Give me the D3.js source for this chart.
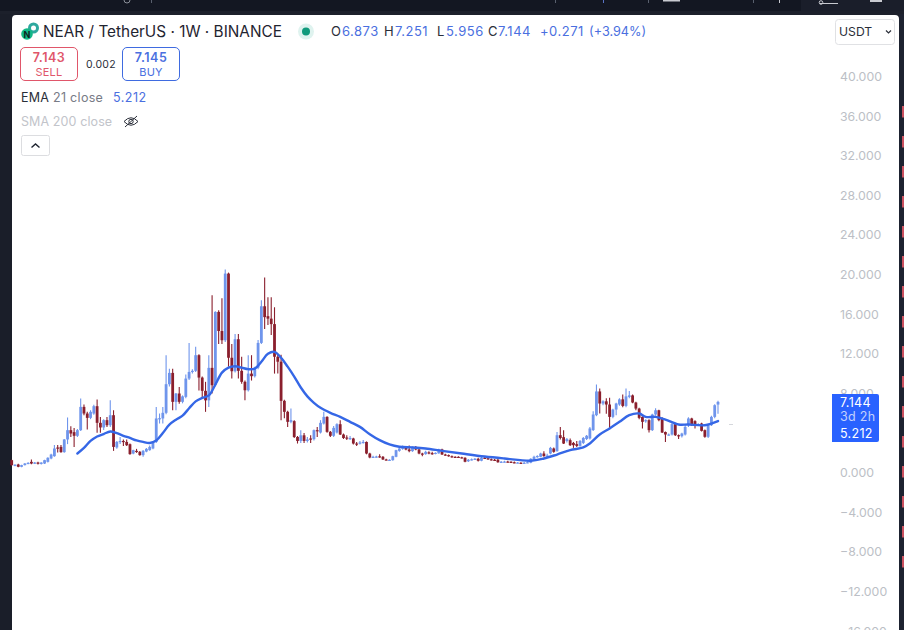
<!DOCTYPE html>
<html><head><meta charset="utf-8">
<script src="https://cdn.jsdelivr.net/npm/d3@7/dist/d3.min.js"></script>
<style>html,body{margin:0;padding:0;background:#131722;overflow:hidden}svg{display:block}text{font-family:Inter,"Noto Sans",sans-serif}</style>
</head><body><div id="c"></div>
<script>
const opens=[1.26,.70,.82,.59,.76,.92,1.09,.92,1.02,.88,
.92,1.09,1.43,1.66,2.54,2.60,2.07,3.35,4.29,4.09,
3.72,4.29,6.64,5.97,5.53,5.97,6.71,5.03,4.56,5.30,
4.79,5.80,2.54,3.10,3.20,3.10,2.87,1.93,2.20,2.10,
1.77,2.13,2.27,2.44,3.10,5.40,5.47,6.04,8.93,10.07,
7.15,7.99,7.15,7.65,9.50,10.17,10.28,11.86,9.60,8.26,
7.30,10.58,8.83,16.23,14.30,13.37,20.10,11.60,10.24,13.47,
10.28,9.17,8.32,10.00,9.74,10.60,13.10,16.80,15.80,15.55,
15.00,11.70,11.20,7.25,6.14,5.13,5.20,3.60,3.20,3.77,
3.20,3.45,3.38,4.29,4.05,4.96,5.63,4.12,3.72,4.05,
4.89,3.85,3.55,3.45,3.45,2.94,2.94,3.04,3.10,1.93,
1.53,1.58,1.65,1.60,1.33,1.30,1.26,1.60,2.20,2.40,
2.54,2.34,2.17,2.60,2.34,1.93,1.87,2.05,1.97,1.93,
1.95,2.34,1.83,1.77,1.66,1.60,1.60,1.55,1.50,1.15,
1.30,1.35,1.40,1.20,1.50,1.45,1.35,1.30,1.30,1.05,
1.10,1.12,1.10,1.05,1.00,1.00,.98,1.00,1.00,1.30,
1.60,1.60,1.93,1.67,1.93,2.44,2.17,3.78,3.58,3.20,
3.28,3.00,2.88,2.70,3.00,3.40,3.45,4.30,5.80,8.20,
6.98,7.20,6.88,5.63,6.37,6.88,7.40,6.74,7.65,7.80,
7.08,6.47,5.63,5.20,5.30,4.29,5.87,6.30,5.50,4.10,
3.85,3.85,4.90,3.78,3.68,3.85,4.80,5.47,5.20,4.85,
4.96,4.29,3.62,4.79,5.63,6.873];
const highs=[1.30,.85,.90,.80,.98,1.05,1.33,1.08,1.10,1.06,
1.30,1.55,1.90,2.78,2.78,2.78,3.40,5.57,4.69,4.50,
4.40,7.48,6.88,6.14,6.30,6.85,7.38,5.63,5.40,5.63,
7.31,6.30,3.20,3.60,3.35,3.35,2.95,2.32,2.40,2.18,
2.28,2.50,2.75,3.20,6.64,5.97,6.64,11.86,10.50,10.50,
8.05,8.66,7.80,9.90,13.10,10.45,12.70,11.95,9.70,9.17,
11.86,17.90,16.30,16.40,17.60,20.50,20.20,13.00,14.00,14.00,
11.70,9.30,11.86,11.86,10.70,13.40,17.40,19.70,17.70,17.70,
16.70,11.90,11.90,7.35,6.25,6.47,5.30,3.70,4.29,4.00,
3.60,3.77,4.35,4.62,5.30,6.14,5.70,4.20,4.70,5.00,
5.30,3.95,3.77,3.70,3.52,3.10,3.20,3.30,3.15,2.00,
1.70,1.70,1.85,1.68,1.40,1.35,1.70,2.32,2.50,2.75,
2.70,2.75,2.65,2.70,2.40,2.00,2.20,2.15,2.10,2.05,
2.40,2.40,1.90,1.82,1.72,1.66,1.65,1.60,1.55,1.38,
1.42,1.48,1.50,1.58,1.58,1.52,1.42,1.38,1.38,1.18,
1.20,1.20,1.15,1.12,1.08,1.06,1.08,1.15,1.45,1.70,
1.75,2.00,2.17,1.90,2.60,2.55,4.10,4.62,4.29,3.50,
3.45,3.10,3.20,3.30,3.60,3.80,4.60,6.20,8.90,8.50,
7.30,7.50,7.55,6.45,7.05,7.50,7.90,8.50,8.25,7.90,
7.15,6.55,5.70,5.40,5.40,5.95,6.50,6.35,5.60,4.15,
3.95,5.05,5.00,3.85,4.02,4.80,5.60,5.55,5.30,5.00,
5.05,4.35,4.90,5.75,6.90,7.251];
const lows=[.70,.65,.55,.55,.72,.85,.85,.88,.82,.82,
.88,1.02,1.35,1.60,2.03,2.00,2.00,2.88,3.60,2.60,
3.60,4.20,5.80,4.36,5.40,5.85,4.02,4.02,4.30,4.60,
4.60,2.20,2.40,2.90,2.68,2.70,1.80,1.85,2.00,1.70,
1.60,2.05,2.20,2.35,3.00,4.96,4.96,5.90,8.70,6.30,
6.30,6.95,7.00,7.50,9.35,10.00,10.15,8.30,7.50,6.14,
6.64,8.00,8.70,13.00,13.00,13.20,10.70,9.50,10.10,9.50,
8.98,7.30,8.20,9.30,9.60,10.45,13.00,14.50,14.90,13.90,
10.00,10.00,5.30,5.50,4.60,5.00,3.50,2.94,3.00,3.00,
3.05,3.00,3.25,3.60,3.95,4.85,4.02,3.60,3.60,3.95,
3.80,3.40,3.30,3.30,2.85,2.70,2.85,2.95,1.85,1.45,
1.48,1.50,1.50,1.28,1.25,1.24,1.20,1.55,2.10,2.30,
2.25,2.05,2.10,2.25,1.85,1.65,1.80,1.85,1.80,1.85,
1.90,1.78,1.70,1.60,1.50,1.52,1.48,1.42,1.05,1.08,
1.22,1.28,1.12,1.15,1.38,1.30,1.22,1.22,1.00,.98,
1.02,1.02,.98,.95,.94,.92,.92,.95,.95,1.22,
1.50,1.55,1.60,1.60,1.85,2.00,2.10,3.35,2.88,3.05,
2.70,2.50,2.60,2.62,2.90,3.30,3.35,4.20,5.70,5.97,
6.80,5.95,4.39,5.50,5.80,6.75,6.60,6.60,7.50,7.00,
6.30,5.40,4.46,5.05,4.05,4.20,5.75,5.20,4.00,3.10,
3.75,3.75,3.70,3.40,3.55,3.75,4.62,4.70,4.46,4.75,
4.15,3.52,3.50,4.70,5.50,5.956];
const closes=[.76,.80,.59,.76,.92,.99,.92,1.02,.92,1.02,
1.26,1.50,1.83,2.44,2.50,2.07,3.35,4.29,3.95,3.72,
4.29,6.64,5.97,5.53,6.14,6.71,5.03,4.56,5.30,4.79,
5.80,2.60,3.10,3.20,3.17,2.77,1.87,2.27,2.10,1.77,
2.20,2.40,2.60,3.10,5.47,5.50,6.04,8.93,10.07,7.15,
7.99,7.15,7.70,9.50,10.17,10.28,11.86,9.60,8.26,7.30,
10.58,8.83,16.23,14.30,13.37,20.10,11.60,10.24,13.47,10.28,
9.17,8.32,10.00,9.74,10.60,13.10,16.80,15.70,15.55,15.00,
11.70,11.20,7.25,6.14,5.13,5.30,3.60,3.20,3.77,3.20,
3.35,3.40,4.29,4.18,5.03,5.63,4.12,3.72,4.52,4.89,
3.85,3.50,3.45,3.50,2.94,2.90,3.04,3.10,1.93,1.53,
1.60,1.63,1.60,1.33,1.30,1.30,1.66,2.27,2.44,2.60,
2.34,2.17,2.60,2.34,1.93,1.87,2.10,1.97,1.93,2.00,
2.34,1.83,1.77,1.66,1.60,1.58,1.55,1.50,1.10,1.30,
1.35,1.40,1.20,1.50,1.45,1.35,1.30,1.28,1.05,1.10,
1.12,1.10,1.05,1.00,1.02,.98,1.00,1.05,1.40,1.60,
1.68,1.93,1.67,1.72,2.50,2.10,3.78,3.50,2.94,3.38,
2.77,2.77,2.70,3.20,3.50,3.72,4.46,5.87,8.20,6.98,
7.20,6.88,5.63,6.37,6.98,7.40,6.74,7.70,7.80,7.08,
6.47,5.53,5.13,5.30,4.29,5.87,6.30,5.30,4.05,3.85,
3.85,4.90,3.78,3.68,3.95,4.62,5.47,4.80,4.80,4.90,
4.22,3.62,4.79,5.63,6.81,7.144];
const emaIndex=[20,22,24,26,28,30,32,34,36,38,40,42,44,46,48,50,52,54,56,58,60,62,64,66,68,70,72,74,76,78,80,82,84,86,88,90,92,94,97,100,103,106,109,112,115,118,122,126,131,137,144,150,158,162,166,170,174,176,179,182,185,188,191,193,196,199,203,206,211,215];
const emaValues=[1.93,2.5,3.2,3.65,3.9,4.15,3.98,3.72,3.5,3.25,3.1,3.0,3.25,4.0,4.85,5.35,5.75,6.5,7.2,7.55,7.8,8.9,10.1,10.6,10.75,10.6,10.45,10.5,11.2,12.0,12.2,11.6,10.7,9.7,8.6,7.7,7.05,6.55,6.04,5.63,5.13,4.62,3.88,3.28,2.85,2.62,2.55,2.44,2.2,1.93,1.63,1.43,1.2,1.43,1.83,2.27,2.55,2.95,3.85,4.46,5.13,5.8,5.97,5.63,5.63,5.36,4.86,4.86,4.79,5.212];
const priceTicks=[40,36,32,28,24,20,16,12,8,0,-4,-8,-12,-16];

const W=904,H=630;
const svg=d3.select('#c').append('svg').attr('width',W).attr('height',H).style('background','#131722');
// chrome
svg.append('rect').attr('x',801).attr('y',0).attr('width',103).attr('height',11).attr('fill','#1a1e2a');
svg.append('rect').attr('x',0).attr('y',11).attr('width',W).attr('height',5).attr('fill','#1c202b');
svg.append('rect').attr('x',0).attr('y',14).attr('width',12).attr('height',H).attr('fill','#1a1e29');
svg.append('rect').attr('x',899).attr('y',14).attr('width',5).attr('height',H).attr('fill','#1d2230');
svg.append('rect').attr('x',12).attr('y',15).attr('width',887).attr('height',H).attr('rx',4).attr('fill','#ffffff');
d3.range(106,570,30).forEach(yy=>svg.append('rect').attr('x',902).attr('y',yy).attr('width',2).attr('height',11.5).attr('fill','#c9505f'));
[[151,'#59606e'],[555,'#59606e'],[603,'#5a74c8'],[648,'#59606e'],[753,'#59606e'],[779,'#c8cad0']].forEach(d=>svg.append('rect').attr('x',d[0]).attr('y',0).attr('width',1).attr('height',3).attr('fill',d[1]));
svg.append('rect').attr('x',663).attr('y',0).attr('width',17).attr('height',1.5).attr('fill','#c8cad0');
svg.append('path').attr('d','M820 3.5H838').attr('stroke','#c8cad0').attr('fill','none');
svg.append('circle').attr('cx',821).attr('cy',2.5).attr('r',1.8).attr('fill','none').attr('stroke','#c8cad0');
svg.append('rect').attr('x',870).attr('y',0).attr('width',12).attr('height',2).attr('fill','#c8cad0');
svg.append('circle').attr('cx',127).attr('cy',0).attr('r',3).attr('fill','none').attr('stroke','#8b8f99');

const x=d3.scaleLinear().domain([0,215]).range([11.7,718]);
const y=d3.scaleLinear().domain([40,-16]).range([76.5,631.1]);
const BLUE='#6f95ec',RED='#8a1f2d';
const idx=d3.range(closes.length);
const up=i=>closes[i]>=opens[i];
const g=svg.append('g');
g.selectAll('line.w').data(idx).join('line').attr('class','w')
 .attr('x1',i=>x(i)).attr('x2',i=>x(i)).attr('y1',i=>y(highs[i])).attr('y2',i=>y(lows[i]))
 .attr('stroke',i=>up(i)?BLUE:RED).attr('stroke-width',1.1);
g.selectAll('rect.b').data(idx).join('rect').attr('class','b')
 .attr('x',i=>x(i)-1.4).attr('width',2.8)
 .attr('y',i=>y(Math.max(opens[i],closes[i])))
 .attr('height',i=>Math.max(1.2,Math.abs(y(opens[i])-y(closes[i]))))
 .attr('fill',i=>up(i)?BLUE:RED);
svg.append('path').attr('fill','none').attr('stroke','#3567e6').attr('stroke-width',2.4)
 .attr('stroke-linejoin','round').attr('stroke-linecap','round')
 .attr('d',d3.line().x((d,i)=>x(emaIndex[i])).y(d=>y(d)).curve(d3.curveCatmullRom)(emaValues));
svg.append('rect').attr('x',729).attr('y',424).attr('width',4).attr('height',1).attr('fill','#d5d7dc');

// price axis
const axis=d3.axisRight(y).tickValues(priceTicks).tickSize(0).tickPadding(0)
 .tickFormat(d=>(d<0?'\u2212':'')+d3.format('.3f')(Math.abs(d)));
const ax=svg.append('g').attr('transform','translate(840,0)').call(axis);
ax.select('.domain').remove();
ax.selectAll('text').attr('fill','#bcbfc6').attr('font-size',12.3).attr('font-family','Inter');

// price label
svg.append('path').attr('d','M832 394H877a2 2 0 0 1 2 2V440a2 2 0 0 1 -2 2H832Z').attr('fill','#2962ff');
const lab=(t,yy,c)=>svg.append('text').attr('x',840).attr('y',yy).attr('fill',c).attr('font-size',12.5).style('letter-spacing','0.3px').text(t);
lab('7.144',406.5,'#ffffff');lab('3d 2h',421,'#c3d1fb');lab('5.212',438,'#ffffff');

// header
svg.append('circle').attr('cx',33.5).attr('cy',28).attr('r',5.5).attr('fill','#2ea89e');
svg.append('circle').attr('cx',33.5).attr('cy',28).attr('r',2.5).attr('fill','#ffffff');
svg.append('circle').attr('cx',27).attr('cy',34).attr('r',5.8).attr('fill','#12b886');
svg.append('text').attr('x',27).attr('y',37.5).attr('text-anchor','middle').attr('font-size',9).attr('font-weight',700).attr('fill','#10241e').text('N');
svg.append('text').attr('x',43).attr('y',37).attr('font-size',15.35).attr('fill','#1f2430').text('NEAR / TetherUS · 1W · BINANCE');
svg.append('circle').attr('cx',306).attr('cy',31.5).attr('r',8).attr('fill','#dff3ef');
svg.append('circle').attr('cx',306).attr('cy',31.5).attr('r',4).attr('fill','#119a7c');
const BT='#4a6fe0',DK='#2a2e39';
const ohlc=svg.append('g');
[['O',DK,331,.5],['6.873',BT,342,.5],['H',DK,384,.5],['7.251',BT,395,.5],['L',DK,437,.5],['5.956',BT,446,.5],['C',DK,488,.5],['7.144',BT,498,.5],['+0.271',BT,540,.5],['(+3.94%)',BT,589,0]].forEach(d=>ohlc.append('text').attr('x',d[2]).attr('y',36).attr('font-size',d[3]?13:12.7).style('letter-spacing',d[3]+'px').attr('fill',d[1]).text(d[0]));

const box=(xx,w,c)=>svg.append('rect').attr('x',xx+.5).attr('y',47.5).attr('width',w).attr('height',33).attr('rx',4.5).attr('fill','#fff').attr('stroke',c);
box(20,57,'#e0566a');box(122,57,'#3f6be0');
const tx=(t,xx,yy,s,c,a,w,ls)=>svg.append('text').attr('x',xx).attr('y',yy).attr('font-size',s).attr('fill',c).attr('text-anchor',a||'start').attr('font-weight',w||400).style('letter-spacing',(ls===undefined?0.2:ls)+'px').text(t);
tx('7.143',49,62,12.5,'#e0566a','middle',600,0.5);tx('SELL',49,76,11,'#e0566a','middle');
tx('7.145',151,62,12.5,'#4a6fe0','middle',600,0.5);tx('BUY',151,76,11,'#4a6fe0','middle');
tx('0.002',86,68,10.5,'#2a2e39');
tx('EMA',21,102,12.5,'#2a2e39');tx('21 close',53,102,12.5,'#787b86','start',400,0.3);tx('5.212',113,102,12.5,'#4a6fe0','start',400,0.5);
tx('SMA 200 close',21,126,12.5,'#c2c4ca','start',400,0.1);
// eye icon
svg.append('path').attr('d','M124 121.5Q131 114 138 121.5Q131 129 124 121.5Z').attr('fill','none').attr('stroke','#2a2e39').attr('stroke-width',1);
svg.append('circle').attr('cx',131).attr('cy',121.5).attr('r',2.2).attr('fill','none').attr('stroke','#2a2e39');
svg.append('path').attr('d','M125 127L137 116').attr('stroke','#2a2e39').attr('stroke-width',1);
// collapse
svg.append('rect').attr('x',21.5).attr('y',135.5).attr('width',28).attr('height',20).attr('rx',2).attr('fill','#fff').attr('stroke','#dcdde0');
svg.append('path').attr('d','M31.5 147.5L35.5 144L39.5 147.5').attr('fill','none').attr('stroke','#1f2430').attr('stroke-width',1.4);
// USDT
svg.append('rect').attr('x',835.5).attr('y',19.5).attr('width',59).attr('height',25).attr('rx',3).attr('fill','#fff').attr('stroke','#e0e1e4');
tx('USDT',839,36,12.2,'#2a2e39','start',400,0);
svg.append('path').attr('d','M886 30.5L888.5 33L891 30.5').attr('fill','none').attr('stroke','#2a2e39').attr('stroke-width',1.2);
</script></body></html>
